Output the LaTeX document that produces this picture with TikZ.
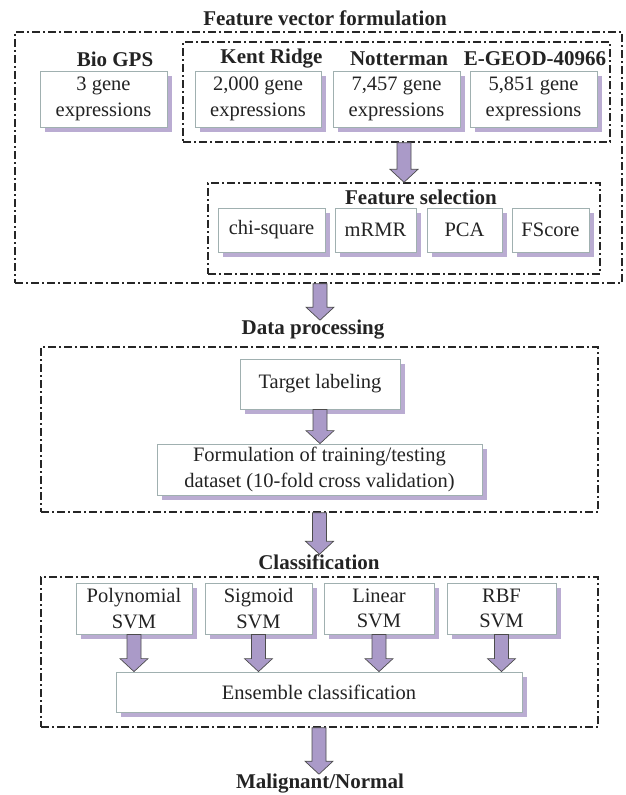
\documentclass[tikz,border=0pt]{standalone}
\usepackage{fontspec}
\setmainfont{Liberation Serif}
\usetikzlibrary{shadows,calc}
\definecolor{shadowc}{RGB}{186,172,210}
\definecolor{arrowc}{RGB}{170,154,200}
\definecolor{edgec}{RGB}{160,176,176}
\definecolor{textc}{RGB}{35,35,35}

\tikzset{
	box/.style={draw=edgec, line width=0.8pt, fill=white, inner sep=0pt, align=center,
		drop shadow={shadow xshift=5pt, shadow yshift=-5pt, fill=shadowc, opacity=1}},
	frame/.style={draw=black!85, line width=1.4pt, inner sep=0pt,
		dash pattern=on 8pt off 3pt on 2pt off 3pt},
	title/.style={font=\fontsize{21}{25}\selectfont\bfseries, inner sep=0pt},
	fatarrow/.style={fill=arrowc, draw=black!70, line width=0.7pt, line join=miter}
}

% block arrow from #1 down to #2
\newcommand{\blockarrow}[2]{%
	\path let \p1=(#1), \p2=(#2) in
		[fatarrow] (\x1-7pt,\y1) -- (\x1+7pt,\y1) -- (\x1+7pt,\y2+13pt) -- (\x1+14pt,\y2+13pt)
		-- (\x1,\y2) -- (\x1-14pt,\y2+13pt) -- (\x1-7pt,\y2+13pt) -- cycle;}

\begin{document}
\begin{tikzpicture}[x=1pt, y=-1pt, font=\fontsize{20.5}{25.5}\selectfont, text=textc]
	\useasboundingbox (0,0) rectangle (626,795);

	% feature vector formulation
	\node [title] (fvtitle) at (325,18) {Feature vector formulation};
	\node [frame, minimum width=607pt, minimum height=251pt] (outer) at (318.5,157.5) {};
	\node [frame, minimum width=427pt, minimum height=100pt] (inner) at (396.5,92) {};

	\node [title] (biol) at (115,59) {Bio GPS};
	\node [title] (kentl) at (271.5,59) {Kent Ridge};
	\node [title] (nottl) at (399,59) {Notterman};
	\node [title] (geodl) at (535,59) {E-GEOD-40966};
	\node [box, minimum width=127pt, minimum height=56pt] (bio) at (103.5,99) {3 gene\\expressions};
	\node [box, minimum width=126pt, minimum height=56pt] (kent) at (258,99) {2,000 gene\\expressions};
	\node [box, minimum width=127pt, minimum height=56pt] (nott) at (396.5,99) {7,457 gene\\expressions};
	\node [box, minimum width=127pt, minimum height=56pt] (geod) at (533.5,99) {5,851 gene\\expressions};

	\node [frame, minimum width=392pt, minimum height=91pt] (fs) at (404,228.5) {};
	\node [title] (fsl) at (421,197) {Feature selection};
	\node [box, minimum width=107pt, minimum height=44pt] (chi) at (271.5,230) {chi-square};
	\node [box, minimum width=81pt, minimum height=44pt] (mrmr) at (375.5,230) {mRMR};
	\node [box, minimum width=75pt, minimum height=44pt] (pca) at (464.5,230) {PCA};
	\node [box, minimum width=77pt, minimum height=44pt] (fscore) at (550.5,230) {FScore};

	\blockarrow{inner.south -| fs.north}{fs.north}

	% data processing
	\node [title] (dptitle) at (313,330) {Data processing};
	\node [frame, minimum width=557pt, minimum height=165pt] (dp) at (319.5,429.5) {};
	\node [box, minimum width=160pt, minimum height=50pt] (target) at (320,384) {Target labeling};
	\node [box, minimum width=325pt, minimum height=51pt] (form) at (319.5,469.5) {Formulation of training/testing\\dataset (10-fold cross validation)};

	\blockarrow{outer.south -| target.north}{dptitle.north -| target.north}
	\blockarrow{target.south}{form.north -| target.south}

	% classification
	\node [title] (cltitle) at (319,562) {Classification};
	\node [frame, minimum width=557pt, minimum height=150pt] (cl) at (319.5,652) {};
	\node [box, minimum width=116pt, minimum height=51pt] (poly) at (134,608.5) {Polynomial\\SVM};
	\node [box, minimum width=107pt, minimum height=51pt] (sig) at (258.5,608.5) {Sigmoid\\SVM};
	\node [box, minimum width=110pt, minimum height=51pt] (lin) at (379,608.5) {Linear\\SVM};
	\node [box, minimum width=109pt, minimum height=51pt] (rbf) at (501.5,608.5) {RBF\\SVM};
	\node [box, minimum width=406pt, minimum height=40pt] (ens) at (319,692) {Ensemble classification};

	\blockarrow{dp.south -| form.south}{cltitle.north -| form.south}
	\foreach \s in {poly,sig,lin,rbf}
		\blockarrow{\s.south}{ens.north -| \s.south};

	% result
	\node [title] (result) at (320,784) {Malignant/Normal};
	\blockarrow{cl.south -| ens.south}{result.north -| ens.south}
\end{tikzpicture}
\end{document}
